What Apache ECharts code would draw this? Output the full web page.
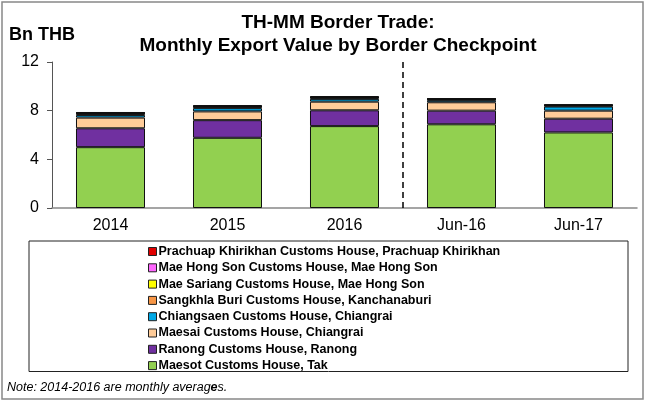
<!DOCTYPE html>
<html>
<head>
<meta charset="utf-8">
<script src="https://cdn.jsdelivr.net/npm/echarts@6/dist/echarts.min.js"></script>
<style>
  html, body { margin: 0; padding: 0; background: #fff; }
  #pic0 { width: 646px; height: 402px; }
</style>
</head>
<body>
<div id="pic0"></div>
<script>
// monthly export value, Bn THB
var categories = ['2014', '2015', '2016', 'Jun-16', 'Jun-17'];
var maesot     = [5.00, 5.77, 6.73, 6.88, 6.21];
var ranong     = [1.55, 1.45, 1.30, 1.12, 1.13];
var maesai     = [0.88, 0.72, 0.71, 0.69, 0.66];
var chiangsaen = [0.22, 0.27, 0.23, 0.17, 0.34];
var sangkhla   = [0.12, 0.12, 0.10, 0.06, 0.07];
var maeSariang = [0.02, 0.02, 0.02, 0.02, 0.02];
var maeHongSon = [0.03, 0.03, 0.03, 0.03, 0.03];
var prachuap   = [0.06, 0.07, 0.08, 0.05, 0.06];
var yTicks = [0, 4, 8, 12];
var splitAt = 3; // dashed line between 2016 and Jun-16

var font = 'Liberation Sans, Arial, sans-serif';

var seriesList = [
    {name: 'Maesot Customs House, Tak', data: maesot, color: '#92D050'},
    {name: 'Ranong Customs House, Ranong', data: ranong, color: '#7030A0'},
    {name: 'Maesai Customs House, Chiangrai', data: maesai, color: '#FFCC99'},
    {name: 'Chiangsaen Customs House, Chiangrai', data: chiangsaen, color: '#00A8E6'},
    {name: 'Sangkhla Buri Customs House, Kanchanaburi', data: sangkhla, color: '#F79646'},
    {name: 'Mae Sariang Customs House, Mae Hong Son', data: maeSariang, color: '#FFFF00'},
    {name: 'Mae Hong Son Customs House, Mae Hong Son', data: maeHongSon, color: '#FF66FF'},
    {name: 'Prachuap Khirikhan Customs House, Prachuap Khirikhan', data: prachuap, color: '#E00000'}
];

var myChart = echarts.init(document.getElementById('pic0'));

var series = seriesList.map(function (s) {
    return {
        name: s.name,
        type: 'bar',
        stack: 'total',
        barWidth: '59%',
        itemStyle: {color: s.color, borderColor: '#111', borderWidth: 1},
        data: s.data
    };
});

// helper series only to carry the dashed divider
series.push({
    name: 'divider',
    type: 'line',
    xAxisIndex: 1,
    data: [[splitAt, 0]],
    symbol: 'none',
    silent: true,
    markLine: {
        symbol: 'none',
        silent: true,
        label: {show: false},
        lineStyle: {color: '#000', type: [6, 4], width: 1.5},
        data: [{xAxis: splitAt}]
    }
});

var option = {
    animation: false,
    textStyle: {fontFamily: font},
    title: {
        text: 'TH-MM Border Trade:\nMonthly Export Value by Border Checkpoint',
        left: 333,
        textAlign: 'center',
        top: 6,
        textStyle: {fontSize: 19, fontWeight: 'bold', color: '#000', lineHeight: 23, fontFamily: font}
    },
    legend: {
        orient: 'vertical',
        left: 143,
        top: 240,
        itemWidth: 8,
        itemHeight: 8,
        itemGap: 3.3,
        icon: 'rect',
        itemStyle: {borderColor: '#222', borderWidth: 1},
        textStyle: {fontSize: 12.5, fontWeight: 'bold', color: '#000', lineHeight: 12, padding: [0, 0, 0, -3], fontFamily: font},
        data: seriesList.map(function (s) { return s.name; }).reverse()
    },
    grid: {left: 52, right: 9, top: 62, bottom: 194, containLabel: false},
    xAxis: [{
        type: 'category',
        data: categories,
        axisLine: {lineStyle: {color: '#888', width: 1.5}},
        axisTick: {length: 5, lineStyle: {color: '#555'}},
        axisLabel: {fontSize: 16, color: '#000', margin: 10, fontFamily: font}
    }, {
        type: 'value',
        min: 0,
        max: categories.length,
        show: false
    }],
    yAxis: {
        type: 'value',
        min: yTicks[0],
        max: yTicks[yTicks.length - 1],
        interval: yTicks[1] - yTicks[0],
        axisLine: {show: true, lineStyle: {color: '#555'}},
        axisTick: {show: true, length: 5, lineStyle: {color: '#555'}},
        splitLine: {show: false},
        axisLabel: {fontSize: 16, color: '#000', margin: 13, fontFamily: font}
    },
    graphic: [
        {type: 'rect', shape: {x: 2, y: 2, width: 641, height: 397},
         style: {fill: 'none', stroke: '#888', lineWidth: 1.5}, silent: true},
        {type: 'rect', shape: {x: 29, y: 241, width: 599, height: 130.5},
         style: {fill: 'none', stroke: '#222', lineWidth: 1}, silent: true, z: -1},
        {type: 'text', left: 9, top: 26,
         style: {text: 'Bn THB', font: 'bold 18px ' + font, fill: '#000'}},
        {type: 'text', left: 7, top: 381,
         style: {
             text: 'Note: 2014-2016 are monthly averag{b|e}s.',
             font: 'italic 12.5px ' + font, fill: '#000',
             rich: {b: {fontStyle: 'italic', fontWeight: 'bold', fontSize: 12.5, fontFamily: font}}
         }}
    ],
    series: series
};

myChart.setOption(option);
</script>
</body>
</html>
